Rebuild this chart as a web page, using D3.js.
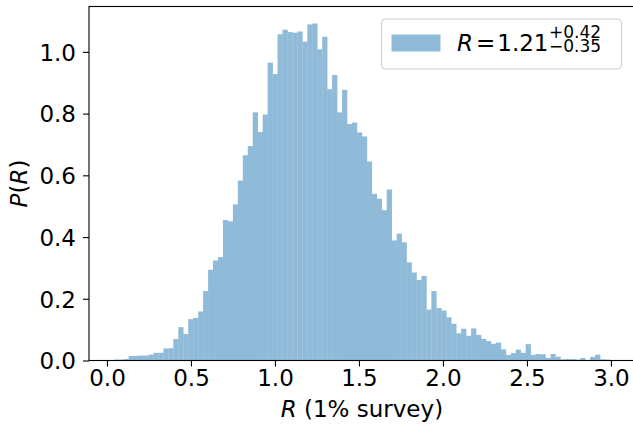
<!DOCTYPE html>
<html><head><meta charset="utf-8">
<script src="https://cdn.jsdelivr.net/npm/d3@7/dist/d3.min.js"></script>
<style>body{margin:0;background:#fff} text{font-family:"DejaVu Sans",sans-serif;fill:#000}</style>
</head><body><svg id="c" width="633" height="428"></svg>
<script>
// Histogram (density=True, 100 bins) of R samples
const binStart = 0.0405;
const binWidth = 0.02954;
const density = [
  0.003, 0.003, 0.005, 0.015, 0.015, 0.016, 0.016, 0.019, 0.025, 0.025,
  0.039, 0.040, 0.070, 0.108, 0.086, 0.134, 0.138, 0.159, 0.225, 0.294,
  0.324, 0.335, 0.455, 0.451, 0.506, 0.583, 0.665, 0.695, 0.804, 0.740,
  0.797, 0.965, 0.928, 1.057, 1.072, 1.064, 1.062, 1.066, 1.033, 1.089,
  1.092, 1.008, 1.049, 0.879, 0.925, 0.804, 0.877, 0.766, 0.771, 0.739,
  0.726, 0.645, 0.540, 0.524, 0.487, 0.554, 0.389, 0.411, 0.383, 0.318,
  0.285, 0.261, 0.274, 0.165, 0.225, 0.170, 0.162, 0.140, 0.119, 0.088,
  0.103, 0.080, 0.104, 0.083, 0.070, 0.063, 0.054, 0.058, 0.036, 0.018,
  0.024, 0.035, 0.025, 0.053, 0.018, 0.021, 0.020, 0.008, 0.021, 0.012,
  0.004, 0.005, 0.005, 0.003, 0.008, 0.002, 0.012, 0.019, 0.004, 0.003
];
const xTicks = [0.0, 0.5, 1.0, 1.5, 2.0, 2.5, 3.0];
const yTicks = [0.0, 0.2, 0.4, 0.6, 0.8, 1.0];
const xDomain = [-0.107, 3.142];
const yDomain = [0, 1.147];
const legendMain = "1.21", legendPlus = "+0.42", legendMinus = "\u22120.35";
const xLabelText = " (1% survey)";

const svg = d3.select("#c");
const L = 89, R = 634.8, T = 6.5, B = 360.5;
const x = d3.scaleLinear().domain(xDomain).range([L, R]);
const y = d3.scaleLinear().domain(yDomain).range([B, T]);
const barColor = "#8fbbd9";

const bins = density.map((v, i) => ({x0: binStart + i * binWidth, x1: binStart + (i + 1) * binWidth, v}));
svg.append("g").selectAll("rect").data(bins).join("rect")
  .attr("x", d => x(d.x0))
  .attr("width", d => x(d.x1) - x(d.x0) + 0.3)
  .attr("y", d => y(d.v))
  .attr("height", d => B - y(d.v))
  .attr("fill", barColor);

// axes
const xAxis = d3.axisBottom(x).tickValues(xTicks).tickFormat(d3.format(".1f")).tickSize(6).tickPadding(6);
const yAxis = d3.axisLeft(y).tickValues(yTicks).tickFormat(d3.format(".1f")).tickSize(6).tickPadding(6);
const gx = svg.append("g").attr("transform", `translate(0,${B})`).call(xAxis);
const gy = svg.append("g").attr("transform", `translate(${L},0)`).call(yAxis);
[gx, gy].forEach(g => {
  g.select(".domain").remove();
  g.selectAll(".tick line").attr("stroke", "#000").attr("stroke-width", 1.1);
  g.selectAll(".tick text").attr("font-size", 23).attr("font-family", "DejaVu Sans").attr("fill", "#000");
});
gx.selectAll(".tick text").attr("dy", null).attr("y", 25.5);
gy.selectAll(".tick text").attr("dy", null).attr("x", -13).attr("y", 8.3);

// spines
svg.append("rect").attr("x", L).attr("y", T).attr("width", R - L).attr("height", B - T)
  .attr("fill", "none").attr("stroke", "#000").attr("stroke-width", 1.1);

// labels
const xl = svg.append("text").attr("x", (L + R) / 2).attr("y", 417).attr("text-anchor", "middle").attr("font-size", 23);
xl.append("tspan").attr("font-style", "italic").text("R");
xl.append("tspan").text(xLabelText);
const yl = svg.append("text").attr("transform", `translate(27,${(T + B) / 2}) rotate(-90)`).attr("text-anchor", "middle").attr("font-size", 23);
yl.append("tspan").attr("font-style", "italic").text("P");
yl.append("tspan").text("(");
yl.append("tspan").attr("font-style", "italic").text("R");
yl.append("tspan").text(")");

// legend
const lg = svg.append("g");
lg.append("rect").attr("x", 381.5).attr("y", 19).attr("width", 240).attr("height", 50).attr("rx", 4)
  .attr("fill", "#fff").attr("fill-opacity", 0.8).attr("stroke", "#cccccc").attr("stroke-width", 1);
lg.append("rect").attr("x", 391.5).attr("y", 34.5).attr("width", 49).attr("height", 17).attr("fill", barColor);
const lt = lg.append("text").attr("x", 457).attr("y", 51).attr("font-size", 23);
lt.append("tspan").attr("font-style", "italic").text("R");
lt.append("tspan").attr("dx", 3).text("=");
lt.append("tspan").attr("dx", 2).text(legendMain);
const ls = lg.append("text").attr("font-size", 17);
ls.append("tspan").attr("x", 549).attr("y", 38).text(legendPlus);
ls.append("tspan").attr("x", 549).attr("y", 52).text(legendMinus);
</script></body></html>
